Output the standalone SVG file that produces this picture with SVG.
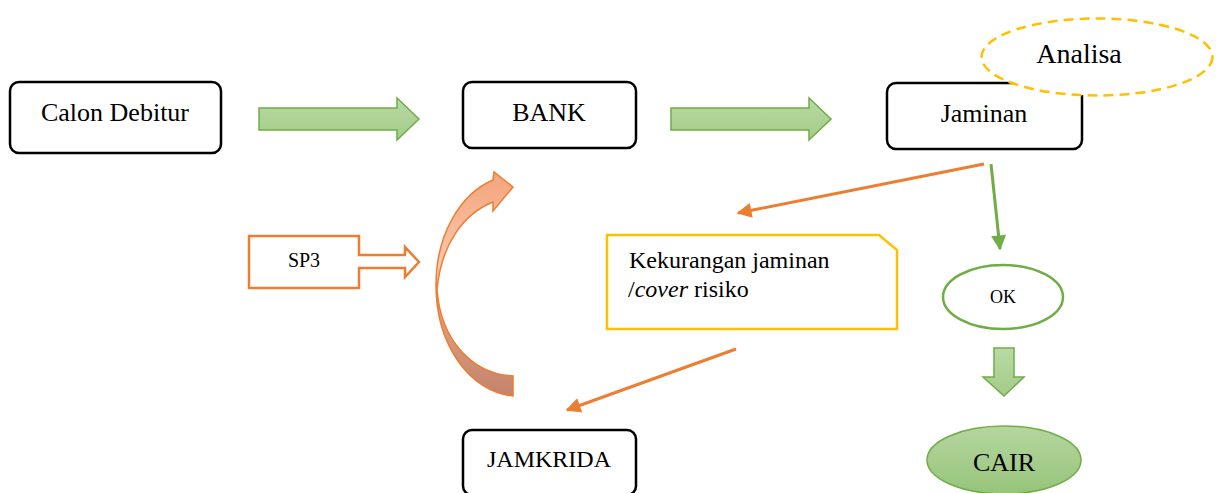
<svg xmlns="http://www.w3.org/2000/svg" width="1222" height="493" viewBox="0 0 1222 493">
<style>
.box{fill:#fff;stroke:#000;stroke-width:2.5}
.t{font-family:"Liberation Serif","Times New Roman",serif;fill:#000}
.blk{fill:url(#gG);stroke:#70AD47;stroke-width:1.5}
.ol{stroke:#ED7D31;stroke-width:3;fill:none}
.gl{stroke:#70AD47;stroke-width:3;fill:none}
</style>
<defs>
<linearGradient id="gG" x1="0" y1="0" x2="0" y2="1">
<stop offset="0" stop-color="#B9DAA5"/>
<stop offset="1" stop-color="#A3CB88"/>
</linearGradient>
<linearGradient id="gO" x1="0" y1="0" x2="0" y2="1">
<stop offset="0" stop-color="#F4A47C"/>
<stop offset="0.45" stop-color="#F8CBB2"/>
<stop offset="0.55" stop-color="#E4A687"/>
<stop offset="1" stop-color="#C4836A"/>
</linearGradient>
<linearGradient id="gC" x1="0" y1="0" x2="0" y2="1">
<stop offset="0" stop-color="#B5D6A0"/>
<stop offset="1" stop-color="#96C47A"/>
</linearGradient>
<marker id="mO" viewBox="0 0 10 10" refX="9" refY="5" markerWidth="6" markerHeight="5" markerUnits="strokeWidth" orient="auto">
<path d="M0,0 L10,5 L0,10 Z" fill="#ED7D31"/>
</marker>
<marker id="mG" viewBox="0 0 10 10" refX="9" refY="5" markerWidth="6" markerHeight="5" markerUnits="strokeWidth" orient="auto">
<path d="M0,0 L10,5 L0,10 Z" fill="#70AD47"/>
</marker>
</defs>

<g id="connectors">
<path class="blk" d="M259,108 L397,108 L397,98 L419,119 L397,140 L397,130 L259,130 Z"/>
<path class="blk" d="M671,108 L809,108 L809,98 L831,119 L809,140 L809,130 L671,130 Z"/>
<line class="ol" x1="984" y1="164" x2="738" y2="213" marker-end="url(#mO)"/>
<line class="gl" x1="991" y1="164" x2="1000" y2="249" marker-end="url(#mG)"/>
<line class="ol" x1="736" y1="349" x2="567" y2="410" marker-end="url(#mO)"/>
<path class="blk" d="M994,348 L1014,348 L1014,377 L1024,377 L1004,396 L983,377 L994,377 Z"/>
<path fill="url(#gO)" stroke="#ED7D31" stroke-width="1.5" d="M513,396 C470,392 436,345 436,285 C436,235 460,194 493,180 L494,172 L513,187 L493,211 L493,202 C463,214 441,245 437,290 C441,340 472,374 513,376 Z"/>
</g>

<g id="calon-debitur">
<rect class="box" x="10" y="82" width="211" height="71" rx="9"/>
<text class="t" x="115" y="121" font-size="26" text-anchor="middle">Calon Debitur</text>
</g>

<g id="bank">
<rect class="box" x="463" y="82" width="173" height="66" rx="9"/>
<text class="t" x="549" y="121" font-size="26" text-anchor="middle">BANK</text>
</g>

<g id="jaminan">
<rect class="box" x="887" y="83" width="195" height="66" rx="9"/>
<text class="t" x="984" y="122" font-size="26" text-anchor="middle">Jaminan</text>
</g>

<g id="analisa">
<ellipse cx="1097" cy="57" rx="115.5" ry="38.5" fill="#fff" stroke="#FFC000" stroke-width="2.5" stroke-dasharray="10,6"/>
<text class="t" x="1079" y="63" font-size="28" text-anchor="middle">Analisa</text>
</g>

<g id="sp3">
<path fill="#fff" stroke="#ED7D31" stroke-width="2.5" d="M249,236 L359,236 L359,255 L405,255 L405,247 L419,262 L405,277 L405,268 L359,268 L359,288 L249,288 Z"/>
<text class="t" x="304" y="267" font-size="20" text-anchor="middle">SP3</text>
</g>

<g id="kekurangan">
<path fill="#fff" stroke="#FFC000" stroke-width="2.5" d="M607,235 L879,235 L897,250 L897,329 L607,329 Z"/>
<text class="t" x="629" y="268" font-size="24">Kekurangan jaminan</text>
<text class="t" x="628" y="297" font-size="24">/<tspan font-style="italic">cover</tspan> risiko</text>
</g>

<g id="jamkrida">
<rect class="box" x="463" y="430" width="173" height="65" rx="9"/>
<text class="t" x="549" y="467" font-size="24" text-anchor="middle">JAMKRIDA</text>
</g>

<g id="ok">
<ellipse cx="1003" cy="297" rx="60" ry="32" fill="#fff" stroke="#70AD47" stroke-width="2.5"/>
<text class="t" x="1003" y="303" font-size="18" text-anchor="middle">OK</text>
</g>

<g id="cair">
<ellipse cx="1004" cy="460" rx="77" ry="34" fill="url(#gC)" stroke="#70AD47" stroke-width="1.5"/>
<text class="t" x="1004" y="471" font-size="26" text-anchor="middle">CAIR</text>
</g>
</svg>
